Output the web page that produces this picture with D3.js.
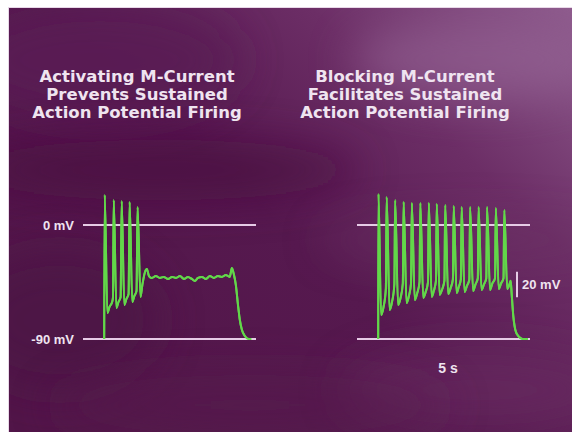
<!DOCTYPE html>
<html><head><meta charset="utf-8">
<script src="https://cdn.jsdelivr.net/npm/d3@7/dist/d3.min.js"></script>
<style>html,body{margin:0;padding:0;background:#fff;}svg{display:block;}</style>
</head><body><svg id="c" width="572" height="432"></svg>
<script>
// ---- data (time in s, membrane potential in mV) ----
const titles = [
  ["Activating M-Current", "Prevents Sustained", "Action Potential Firing"],
  ["Blocking M-Current", "Facilitates Sustained", "Action Potential Firing"]
];
const refLevels = [0, -90];
const refLabels = ["0 mV", "-90 mV"];
const timeDomain = [-0.8, 5.73];
const scaleBarMV = [-37, -57];
const scaleBarLabel = "20 mV";
const timeLabel = "5 s";

const leftTrace = [
  [0,-90],[0.02,23.7],[0.12,-69.5],[0.20,-64.7],[0.30,-60.8],[0.33,-57.6],
  [0.36,19.7],[0.46,-65.5],[0.54,-60.8],[0.62,-56.8],
  [0.66,18.9],[0.76,-63.1],[0.84,-58.4],[0.92,-54.5],
  [0.96,18.2],[1.06,-60.8],[1.14,-56],[1.22,-52.1],
  [1.26,14.2],[1.37,-56.8],[1.44,-47.4],[1.54,-37.1],[1.61,-34.7],[1.69,-40.3],
  [1.80,-41.8],[1.95,-40.3],[2.10,-41.8],[2.25,-41],[2.41,-42.6],[2.56,-41],
  [2.71,-41.8],[2.86,-40.3],[3.01,-42.6],[3.16,-41],[3.31,-42.6],[3.42,-44.2],
  [3.54,-41.8],[3.69,-41],[3.84,-42.6],[3.99,-40.3],[4.14,-41.8],[4.29,-40.3],
  [4.44,-41],[4.59,-39.5],[4.74,-41],[4.82,-33.9],[4.90,-39.5],[4.97,-47.4],
  [5.05,-63.1],[5.12,-75],[5.20,-82.9],[5.31,-87.6],[5.46,-90],[5.55,-90]
];
const rightTrace = [
  [0,-90],
  [0.01,24.5],[0.11,-71.0],[0.20,-65],[0.29,-50],
  [0.32,22.1],[0.43,-67.1],[0.52,-61],[0.61,-47],
  [0.64,19.7],[0.75,-63.1],[0.84,-58],[0.93,-46],
  [0.96,18.2],[1.07,-61.6],[1.16,-56],[1.24,-46],
  [1.27,17.4],[1.38,-59.2],[1.47,-54],[1.56,-45],
  [1.59,17.4],[1.70,-57.6],[1.79,-53],[1.88,-45],
  [1.91,17.4],[2.02,-56.8],[2.10,-52],[2.18,-44],
  [2.21,16.6],[2.32,-55.2],[2.41,-51],[2.50,-44],
  [2.53,15.8],[2.64,-54.5],[2.73,-50],[2.82,-43],
  [2.85,15.0],[2.96,-53.7],[3.04,-49],[3.12,-43],
  [3.15,14.2],[3.26,-52.9],[3.35,-48],[3.44,-43],
  [3.47,14.2],[3.58,-52.1],[3.67,-47],[3.76,-42],
  [3.79,14.2],[3.90,-51.3],[3.99,-47],[4.08,-42],
  [4.11,14.2],[4.22,-51.3],[4.31,-46],[4.41,-42],
  [4.44,13.4],[4.55,-50.5],[4.64,-46],[4.73,-42],
  [4.76,11.8],[4.87,-50.5],[4.95,-47],[5.00,-44],
  [5.04,-55],[5.10,-72],[5.18,-83],[5.30,-88],[5.45,-90],[5.65,-90]
];

// ---- drawing ----
const svg = d3.select("#c");
const W = 572, H = 432;
const defs = svg.append("defs");
const lg = defs.append("linearGradient").attr("id","bg").attr("gradientUnits","userSpaceOnUse")
  .attr("x1",560).attr("y1",0).attr("x2",150).attr("y2",430);
lg.append("stop").attr("offset","0").attr("stop-color","#8d5a8c");
lg.append("stop").attr("offset","0.3").attr("stop-color","#6c2e66");
lg.append("stop").attr("offset","0.6").attr("stop-color","#56194f");
lg.append("stop").attr("offset","1").attr("stop-color","#521649");
const blur = defs.append("filter").attr("id","blur").attr("filterUnits","userSpaceOnUse")
  .attr("x",-200).attr("y",-200).attr("width",W+400).attr("height",H+400);
blur.append("feGaussianBlur").attr("stdDeviation", 22);
const glow = defs.append("filter").attr("id","glow").attr("x","-20%").attr("y","-20%").attr("width","140%").attr("height","140%");
glow.append("feGaussianBlur").attr("stdDeviation", 0.7).attr("result","b");
const fm = glow.append("feMerge");
fm.append("feMergeNode").attr("in","b");
fm.append("feMergeNode").attr("in","SourceGraphic");

svg.append("rect").attr("width",W).attr("height",H).attr("fill","#ffffff");
svg.append("rect").attr("x",8).attr("y",7).attr("width",W-8).attr("height",H-7).attr("fill","#e8d8e8");
const clip = defs.append("clipPath").attr("id","bgclip");
clip.append("rect").attr("x",9).attr("y",8).attr("width",W-9).attr("height",H-8);
const bgG = svg.append("g").attr("clip-path","url(#bgclip)");
bgG.append("rect").attr("x",9).attr("y",8).attr("width",W-9).attr("height",H-8).attr("fill","url(#bg)");
const blobs = [
  {cx:100, cy:60, rx:140, ry:60, c:"#5a1c54", o:0.8},
  {cx:160, cy:170, rx:200, ry:30, c:"#48103f", o:0.7},
  {cx:480, cy:60, rx:130, ry:40, c:"#956595", o:0.6},
  {cx:470, cy:240, rx:150, ry:20, c:"#6a3064", o:0.5},
  {cx:60, cy:320, rx:100, ry:70, c:"#4c1244", o:0.7},
  {cx:480, cy:390, rx:140, ry:40, c:"#682c60", o:0.7},
  {cx:250, cy:405, rx:200, ry:30, c:"#561a4e", o:0.6}
];
bgG.selectAll("ellipse").data(blobs).join("ellipse")
  .attr("cx",d=>d.cx).attr("cy",d=>d.cy).attr("rx",d=>d.rx).attr("ry",d=>d.ry)
  .attr("fill",d=>d.c).attr("opacity",d=>d.o).attr("filter","url(#blur)");

const y = d3.scaleLinear().domain([-90,0]).range([339,225]);
const panels = [
  {x: d3.scaleLinear().domain(timeDomain).range([83,256]), trace: leftTrace, title: titles[0], cx: 137},
  {x: d3.scaleLinear().domain(timeDomain).range([357,530]), trace: rightTrace, title: titles[1], cx: 405}
];

const textCol = "#efe4f0";
panels.forEach((p, i) => {
  const g = svg.append("g");
  g.append("text").attr("x", p.cx).attr("y", 82).attr("text-anchor","middle")
    .attr("font-family","'DejaVu Sans', sans-serif").attr("font-weight","bold")
    .attr("font-size",16.5).attr("fill",textCol)
    .selectAll("tspan").data(p.title).join("tspan")
    .attr("x", p.cx).attr("dy",(d,k)=>k===0?0:18).text(d=>d);
  g.selectAll("line.ref").data(refLevels).join("line").attr("class","ref")
    .attr("x1", p.x(timeDomain[0])).attr("x2", p.x(timeDomain[1]))
    .attr("y1", d=>y(d)).attr("y2", d=>y(d))
    .attr("stroke","#e6cbe6").attr("stroke-width",2);
  const line = d3.line().x(d=>p.x(d[0])).y(d=>y(d[1])).curve(d3.curveMonotoneX);
  g.append("path").datum(p.trace).attr("d", line).attr("fill","none")
    .attr("stroke","#62d84a").attr("stroke-width",2).attr("stroke-linejoin","round")
    .attr("filter","url(#glow)");
});

const ax = d3.axisLeft(y).tickValues(refLevels).tickSize(0).tickPadding(0)
  .tickFormat(d=>refLabels[refLevels.indexOf(d)]);
const axG = svg.append("g").attr("transform","translate(74,0)").call(ax);
axG.select(".domain").remove();
axG.selectAll("text").attr("font-family","'Liberation Sans Narrow','Liberation Sans',sans-serif")
  .attr("font-weight","bold").attr("font-size",13).attr("fill",textCol);

svg.append("line").attr("x1",517).attr("x2",517)
  .attr("y1", y(scaleBarMV[0])).attr("y2", y(scaleBarMV[1]))
  .attr("stroke","#e6cbe6").attr("stroke-width",2);
svg.append("text").attr("x",522).attr("y",(y(scaleBarMV[0])+y(scaleBarMV[1]))/2+4.5)
  .attr("font-family","'Liberation Sans Narrow','Liberation Sans',sans-serif")
  .attr("font-weight","bold").attr("font-size",13).attr("fill",textCol).text(scaleBarLabel);
svg.append("text").attr("x",448).attr("y",373).attr("text-anchor","middle")
  .attr("font-family","'Liberation Sans Narrow','Liberation Sans',sans-serif")
  .attr("font-weight","bold").attr("font-size",14).attr("fill",textCol).text(timeLabel);
</script></body></html>
